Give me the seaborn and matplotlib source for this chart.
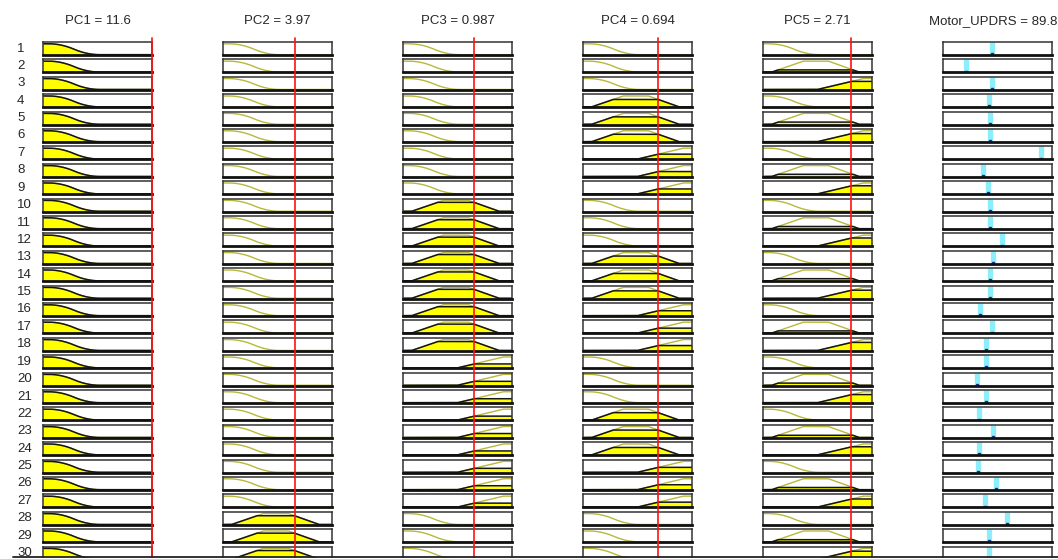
import numpy as np
import matplotlib
matplotlib.use("Agg")
import matplotlib.pyplot as plt
import seaborn as sns
from matplotlib.lines import Line2D
from matplotlib.patches import Rectangle

input_names = ['PC1', 'PC2', 'PC3', 'PC4', 'PC5']
input_values = [11.6, 3.97, 0.987, 0.694, 2.71]
input_lo = [-9.8, -4.0, -2.4, -1.6, -2.3]
input_hi = [11.6, 8.1, 2.8, 1.72, 3.9]

output_name = 'Motor_UPDRS'
output_value = 89.8
output_lo, output_hi = 0, 200

# membership function of each input in rules 1..30 (L = low, M = mid, H = high)
pc1_mf = "LLLLLLLLLLLLLLLLLLLLLLLLLLLLLL"
pc2_mf = "LLLLLLLLLLLLLLLLLLLLLLLLLLLMMM"
pc3_mf = "LLLLLLLLLMMMMMMMMMHHHHHHHHHLLL"
pc4_mf = "LLLMMMHHHLLLMMMHHHLLLMMMHHHLLL"
pc5_mf = "LMHLMHLMHLMHLMHLMHLMHLMHLMHLMH"
rule_mfs = [pc1_mf, pc2_mf, pc3_mf, pc4_mf, pc5_mf]

# membership degree shown (height of the yellow area) per input and mf
pc1_degree = {'L': 1.0}
pc2_degree = {'L': 0.0, 'M': 0.80}
pc3_degree = {'L': 0.0, 'M': 0.82, 'H': 0.36}
pc4_degree = {'L': 0.0, 'M': 0.68, 'H': 0.45}
pc5_degree = {'L': 0.0, 'M': 0.20, 'H': 0.74}
degrees = [pc1_degree, pc2_degree, pc3_degree, pc4_degree, pc5_degree]

# sugeno output of each rule
rule_outputs = [89, 42, 89, 84, 86, 87, 180, 73, 82, 86,
                86, 109, 91, 87, 87, 68, 90, 78, 78, 63,
                78, 66, 92, 66, 64, 97, 77, 118, 84, 84]


#### membership function shapes (on the normalised range) ####
def zmf(f, a, b):
    m = (a + b) / 2
    y = np.ones_like(f)
    y = np.where((f > a) & (f <= m), 1 - 2 * ((f - a) / (b - a)) ** 2, y)
    y = np.where((f > m) & (f < b), 2 * ((f - b) / (b - a)) ** 2, y)
    y = np.where(f >= b, 0, y)
    return y


def trap(f, a, b, c, d):
    up = np.clip((f - a) / (b - a), 0, 1)
    down = np.clip((d - f) / (d - c), 0, 1)
    return np.minimum(up, down)


def mf_shape(kind, f):
    if kind == 'L':
        return zmf(f, 0.05, 0.52)
    if kind == 'M':
        return trap(f, 0.08, 0.37, 0.6, 0.88)
    return trap(f, 0.5, 0.92, 1.5, 2.0)


#### layout ####
sns.set_theme(style="white")
plt.rcParams['font.family'] = ['Liberation Sans', 'DejaVu Sans']

W, H = 1058, 559
fig = plt.figure(figsize=(W / 100, H / 100), dpi=100)

col_left = [43, 223, 403, 583, 763, 943]
box_w, box_h = 109, 13
row_top0, row_step = 42, 17.4
n_rules = len(rule_outputs)


def px_axes(left, top, w, h):
    return fig.add_axes([left / W, 1 - (top + h) / H, w / W, h / H])


def style_box(ax):
    ax.set_xticks([])
    ax.set_yticks([])
    ax.set_ylim(-0.03, 1.16)
    for s in ax.spines.values():
        s.set_color('#333333')
        s.set_linewidth(1.1)
    ax.spines['bottom'].set_color('#111111')
    ax.spines['bottom'].set_linewidth(2.0)


for r in range(n_rules):
    top = row_top0 + r * row_step
    fig.text(17 / W, 1 - (top + box_h / 2) / H, str(r + 1), fontsize=9.5,
             ha='left', va='center')

    for c in range(5):
        lo, hi = input_lo[c], input_hi[c]
        kind = rule_mfs[c][r]
        xs = np.linspace(lo, hi, 400)
        mf = mf_shape(kind, (xs - lo) / (hi - lo))
        mu = degrees[c][kind]

        ax = px_axes(col_left[c], top, box_w, box_h)
        sns.lineplot(x=xs, y=mf, ax=ax, color='#b8b83a', lw=1.0, legend=False)
        if mu > 0:
            clipped = np.minimum(mf, mu)
            ax.fill_between(xs, 0, clipped, color='#ffff00', lw=0)
            ax.plot(xs, clipped, color='#151515', lw=1.1)
        ax.set_xlim(lo, hi)
        style_box(ax)

    # output column
    ax = px_axes(col_left[5], top, box_w, box_h)
    ax.vlines(rule_outputs[r], 0, 1.16, color='#8ceefa', lw=3.8)
    ax.plot([rule_outputs[r]], [0.05], 's', ms=1.6, color='#1b2f8a')
    ax.set_xlim(output_lo, output_hi)
    style_box(ax)

# red input markers running down each input column
for c in range(5):
    ov = px_axes(col_left[c], 38, box_w, H - 38 + 5)
    ov.set_xlim(input_lo[c], input_hi[c])
    ov.set_ylim(0, 1)
    ov.axis('off')
    ov.patch.set_alpha(0)
    ov.axvline(input_values[c], color='#ff1010', lw=1.2, clip_on=False)

# column headers
for c in range(5):
    fig.text((col_left[c] + box_w / 2) / W, 1 - 21 / H,
             "{} = {:.3g}".format(input_names[c], input_values[c]),
             fontsize=9.5, ha='center', va='center')
fig.text((col_left[5] + box_w / 2 - 4) / W, 1 - 21 / H,
         "{} = {:.3g}".format(output_name, output_value),
         fontsize=9.5, ha='center', va='center')

# panel edge cutting off the last row
fig.add_artist(Rectangle((0, 0), 1, 1.4 / H, transform=fig.transFigure,
                         color='white', zorder=10))
fig.add_artist(Line2D([13 / W, 1], [1.6 / H, 1.6 / H], transform=fig.transFigure,
                      color='#222222', lw=1.3, zorder=11))

fig.savefig('out.png', dpi=100)
